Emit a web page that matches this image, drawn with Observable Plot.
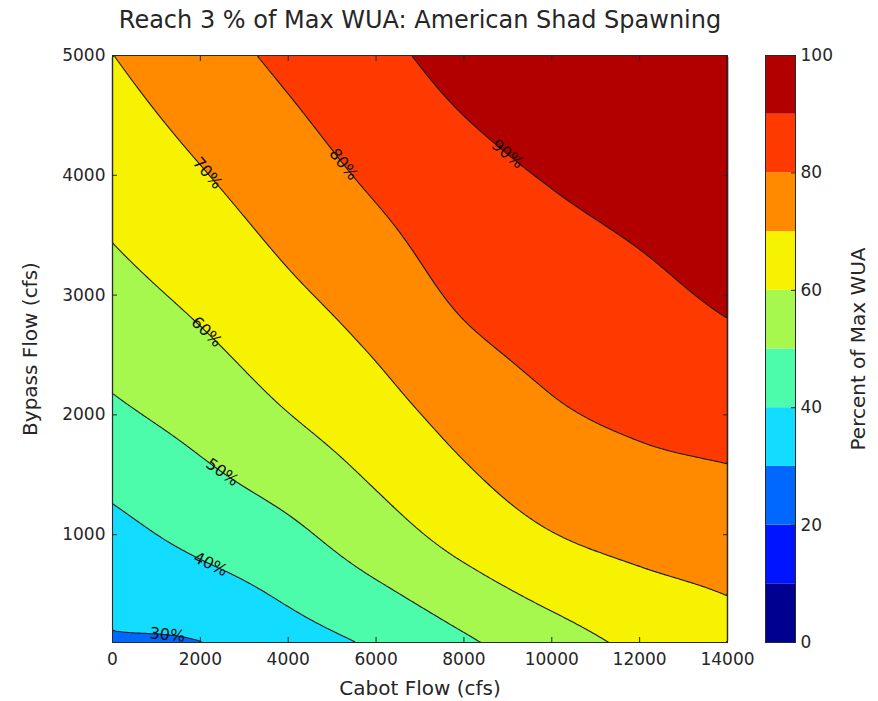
<!DOCTYPE html>
<html>
<head>
<meta charset="utf-8">
<script src="https://cdn.jsdelivr.net/npm/d3@7"></script>
<script src="https://cdn.jsdelivr.net/npm/@observablehq/plot@0.6"></script>
<style>
  body { margin: 0; background: #fff; }
  #chart { position: relative; width: 878px; height: 701px; font-family: "DejaVu Sans", sans-serif; }
  #chart svg { position: absolute; top: 0; }
</style>
</head>
<body>
<div id="chart"></div>
<script>
// ---------- data ----------
const cabotFlow = [0, 2000, 4000, 6000, 8000, 10000, 12000, 14000];   // x (cfs)
const bypassFlow = [100, 1000, 2000, 3000, 4000, 5000];               // y (cfs)
// percent of max WUA along each bypass-flow row
const wuaAt100  = [29.1, 29.85, 36.0, 41.3, 48.6, 55.8, 62.0, 66.4];
const wuaAt1000 = [37.2, 42.7, 47.9, 55.6, 63.4, 69.7, 73.0, 74.7];
const wuaAt2000 = [48.3, 53.4, 59.8, 66.2, 73.4, 78.8, 81.7, 83.5];
const wuaAt3000 = [56.8, 62.1, 68.3, 74.3, 81.5, 85.0, 88.0, 91.2];
const wuaAt4000 = [63.8, 69.4, 75.5, 81.6, 87.1, 90.6, 92.9, 94.4];
const wuaAt5000 = [69.9, 76.1, 82.1, 87.7, 93.0, 95.5, 97.0, 98.0];

const fillLevels = [0, 10, 20, 30, 40, 50, 60, 70, 80, 90, 100];
const lineLevels = [30, 40, 50, 60, 70, 80, 90];
const bandColors = ["#000090", "#0014ff", "#0068ff", "#12dcff", "#4dfcaa",
                    "#a6f84e", "#f6f200", "#ff8a00", "#ff3a00", "#b20000"];
const xTicks = [0, 2000, 4000, 6000, 8000, 10000, 12000, 14000];
const yTicks = [1000, 2000, 3000, 4000, 5000];
const colorbarTicks = [0, 20, 40, 60, 80, 100];
// inline contour labels: level and the Cabot flow where the label sits
const labelLevels = [30, 40, 50, 60, 70, 80, 90];
const labelCabot  = [1250, 2230, 2500, 2140, 2160, 5260, 8990];

const titleText = "Reach 3 % of Max WUA: American Shad Spawning";
const xLabel = "Cabot Flow (cfs)";
const yLabel = "Bypass Flow (cfs)";
const colorbarLabel = "Percent of Max WUA";

// ---------- layout ----------
const W = 878, H = 701, mL = 112, mR = 151, mT = 55, mB = 59;
const FONT = "DejaVu Sans";

const grid = [wuaAt100, wuaAt1000, wuaAt2000, wuaAt3000, wuaAt4000, wuaAt5000];
const points = [];
grid.forEach((row, j) => row.forEach((v, i) => points.push({x: cabotFlow[i], y: bypassFlow[j], v})));

// smooth (cubic Hermite) interpolation between the grid values
function hermite(t, p, q) {
  const n = t.length;
  q = Math.max(t[0], Math.min(t[n - 1], q));
  let k = 0; while (k < n - 2 && q > t[k + 1]) k++;
  const h = t[k + 1] - t[k], s = (q - t[k]) / h;
  const slope = i => i === 0 ? (p[1] - p[0]) / (t[1] - t[0])
    : i === n - 1 ? (p[n - 1] - p[n - 2]) / (t[n - 1] - t[n - 2])
    : (p[i + 1] - p[i - 1]) / (t[i + 1] - t[i - 1]);
  const m0 = slope(k) * h, m1 = slope(k + 1) * h, s2 = s * s, s3 = s2 * s;
  return (2 * s3 - 3 * s2 + 1) * p[k] + (s3 - 2 * s2 + s) * m0 + (-2 * s3 + 3 * s2) * p[k + 1] + (s3 - s2) * m1;
}
function wuaAt(x, y) {
  const col = grid.map(row => hermite(cabotFlow, row, x));
  return hermite(bypassFlow, col, y);
}
function smoothInterpolate(index, width, height, X, Y) {
  const a = 0, b = points.length - 1;          // (0,100) and (14000,5000)
  const xa = X[a], xb = X[b], ya = Y[a], yb = Y[b];
  const out = new Float64Array(width * height);
  const x0 = cabotFlow[0], x1 = cabotFlow[cabotFlow.length - 1];
  const y0 = bypassFlow[0], y1 = bypassFlow[bypassFlow.length - 1];
  for (let r = 0; r < height; r++) {
    const dy = y0 + (r + 0.5 - ya) / (yb - ya) * (y1 - y0);
    for (let c = 0; c < width; c++) {
      const dx = x0 + (c + 0.5 - xa) / (xb - xa) * (x1 - x0);
      out[r * width + c] = wuaAt(dx, dy);
    }
  }
  return out;
}
function bypassForLevel(x, level) {
  let lo = 100, hi = 5000;
  for (let k = 0; k < 60; k++) { const m = (lo + hi) / 2; if (wuaAt(x, m) < level) lo = m; else hi = m; }
  return (lo + hi) / 2;
}
const kx = (W - mL - mR) / 14000, ky = (H - mT - mB) / 4900;
const labels = labelLevels.map((level, i) => {
  const x = labelCabot[i], y = bypassForLevel(x, level), h = 40;
  const gx = (wuaAt(x + h, y) - wuaAt(x - h, y)) / (2 * h) / kx;
  const gy = -(wuaAt(x, y + h) - wuaAt(x, y - h)) / (2 * h) / ky;
  let ang = Math.atan2(-gx, gy) * 180 / Math.PI;
  if (ang > 90) ang -= 180; if (ang < -90) ang += 180;
  return {x, y, level, text: level + "%", angle: ang};
});

const colorScale = {type: "threshold", domain: fillLevels.slice(1, -1), range: bandColors};
const bounds = {x1: 0, x2: 14000, y1: 100, y2: 5000};

const main = Plot.plot({
  width: W, height: H, marginLeft: mL, marginRight: mR, marginTop: mT, marginBottom: mB,
  style: {fontFamily: FONT, fontSize: "17px", color: "#262626", background: "transparent"},
  x: {domain: [0, 14000]},
  y: {domain: [100, 5000]},
  color: colorScale,
  marks: [
    Plot.contour(points, {x: "x", y: "y", fill: "v", interpolate: smoothInterpolate,
      thresholds: fillLevels, ...bounds}),
    Plot.contour(points, {x: "x", y: "y", value: "v", interpolate: smoothInterpolate,
      thresholds: lineLevels, ...bounds,
      fill: "none", stroke: "#1b1b1b", strokeWidth: 1.1, ariaLabel: "contour-lines"}),
    Plot.frame({stroke: "#2a2a2a", strokeWidth: 1}),
    Plot.axisX({ticks: xTicks, tickFormat: d3.format("d"), tickSize: -5, tickPadding: 15, label: null, fontSize: 17}),
    Plot.axisX({anchor: "top", ticks: xTicks, tickFormat: () => "", tickSize: -5, label: null}),
    Plot.axisY({ticks: yTicks, tickFormat: d3.format("d"), tickSize: -5, tickPadding: 12, label: null, fontSize: 17}),
    Plot.axisY({anchor: "right", ticks: yTicks, tickFormat: () => "", tickSize: -5, label: null}),
    Plot.text(labels, {x: "x", y: "y", text: "text", rotate: "angle", fontSize: 16, fill: "#111"}),
    Plot.text([titleText], {text: d => d, frameAnchor: "top", dy: -35, lineAnchor: "middle", textAnchor: "middle", fontSize: 24, fill: "#262626"}),
    Plot.text([xLabel], {text: d => d, frameAnchor: "bottom", dy: 46, lineAnchor: "middle", textAnchor: "middle", fontSize: 20, fill: "#262626"}),
    Plot.text([yLabel], {text: d => d, frameAnchor: "left", dx: -82, rotate: -90, lineAnchor: "middle", textAnchor: "middle", fontSize: 20, fill: "#262626"})
  ]
});

// break contour lines under their labels (like inline clabel)
(function () {
  const ns = "http://www.w3.org/2000/svg";
  const sx = main.scale("x"), sy = main.scale("y");
  const defs = document.createElementNS(ns, "defs");
  const mask = document.createElementNS(ns, "mask");
  mask.setAttribute("id", "label-gaps");
  mask.setAttribute("maskUnits", "userSpaceOnUse");
  mask.setAttribute("x", 0); mask.setAttribute("y", 0);
  mask.setAttribute("width", W); mask.setAttribute("height", H);
  const bg = document.createElementNS(ns, "rect");
  bg.setAttribute("width", W); bg.setAttribute("height", H); bg.setAttribute("fill", "white");
  mask.appendChild(bg);
  for (const l of labels) {
    const px = sx.apply(l.x), py = sy.apply(l.y), w = l.text.length * 11 + 4, h = 14;
    const r = document.createElementNS(ns, "rect");
    r.setAttribute("x", px - w / 2); r.setAttribute("y", py - h / 2);
    r.setAttribute("width", w); r.setAttribute("height", h); r.setAttribute("fill", "black");
    r.setAttribute("transform", `rotate(${l.angle},${px},${py})`);
    mask.appendChild(r);
  }
  defs.appendChild(mask);
  main.insertBefore(defs, main.firstChild);
  const g = main.querySelector('g[aria-label="contour-lines"]');
  if (g) g.setAttribute("mask", "url(#label-gaps)");
})();

const colorbar = Plot.plot({
  width: 113, height: H, marginLeft: 0, marginRight: 83, marginTop: mT, marginBottom: mB,
  style: {fontFamily: FONT, fontSize: "17px", color: "#262626", background: "transparent"},
  y: {domain: [0, 100]},
  color: colorScale,
  marks: [
    Plot.rect(fillLevels.slice(0, -1), {y1: d => d, y2: d => d + 10, fill: d => d}),
    Plot.frame({stroke: "#2a2a2a", strokeWidth: 1}),
    Plot.axisY({anchor: "right", ticks: colorbarTicks, tickFormat: d3.format("d"), tickSize: -5, tickPadding: 10, label: null, fontSize: 17}),
    Plot.text([colorbarLabel], {text: d => d, frameAnchor: "right", dx: 63, rotate: -90, lineAnchor: "middle", textAnchor: "middle", fontSize: 20, fill: "#262626"})
  ]
});
main.style.left = "0px";
colorbar.style.left = "765px";
const chart = document.getElementById("chart");
chart.appendChild(main);
chart.appendChild(colorbar);
</script>
</body>
</html>
